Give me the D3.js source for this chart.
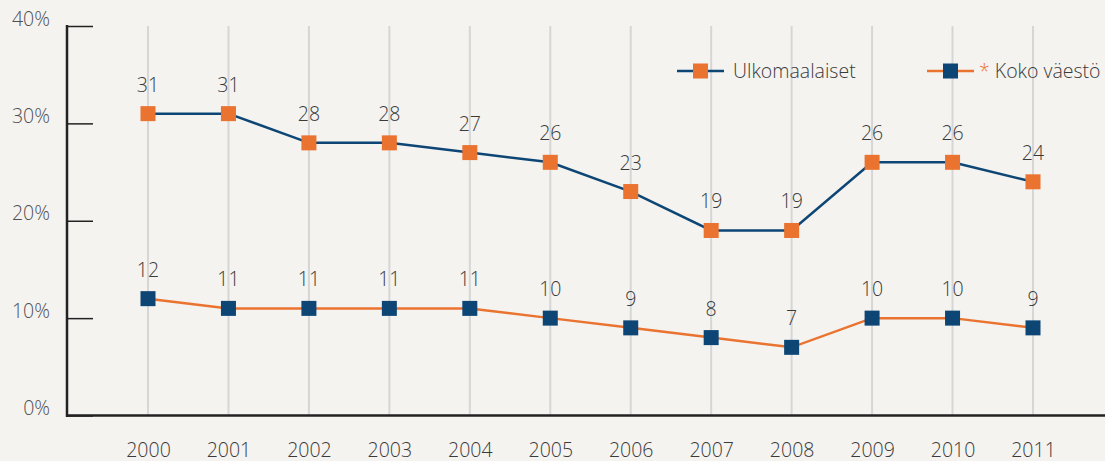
<!DOCTYPE html>
<html>
<head>
<meta charset="utf-8">
<script src="https://cdn.jsdelivr.net/npm/d3@7"></script>
<style>
  html, body { margin: 0; padding: 0; background: #f4f3f0; overflow: hidden; }
  svg { display: block; font-family: "Open Sans", "Noto Sans", sans-serif; font-weight: 300; }
</style>
</head>
<body>
<div id="app"></div>
<script>
const years = ['2000','2001','2002','2003','2004','2005','2006','2007','2008','2009','2010','2011']
const ulkomaalaiset = [31,31,28,28,27,26,23,19,19,26,26,24]
const kokoVaesto = [12,11,11,11,11,10,9,8,7,10,10,9]
const yTicks = [0,10,20,30,40]

const orange = '#ea7330'
const navy = '#0d4675'
const W = 1105, H = 461
const fs = 19.5

const svg = d3.select('#app').append('svg').attr('width',W).attr('height',H)

const x = d3.scalePoint().domain(years).range([148,1033])
const y = d3.scaleLinear().domain([0,40]).range([415.5,26])

// vertical grid lines
svg.selectAll('line.grid').data(years).enter().append('line')
  .attr('class','grid')
  .attr('x1',d => x(d)).attr('x2',d => x(d))
  .attr('y1',y(40)).attr('y2',y(0))
  .attr('stroke','#d6d6d6').attr('stroke-width',2)

// y axis
const yAxis = d3.axisLeft(y).tickValues(yTicks).tickFormat(d => d + '%').tickSize(0).tickPadding(17)
const gy = svg.append('g').attr('transform','translate(67,0)').call(yAxis).attr('font-family',null).attr('font-size',fs)
gy.select('.domain').remove()
gy.selectAll('text').attr('fill','#505050').attr('dy','-0.05em')
gy.selectAll('.tick').append('line').attr('x1',0).attr('x2',26).attr('stroke','#222').attr('stroke-width',1.5)
svg.append('line').attr('x1',67).attr('x2',67).attr('y1',y(40)-1).attr('y2',y(0)+1.5)
  .attr('stroke','#222').attr('stroke-width',2.5)

// x axis
const xAxis = d3.axisBottom(x).tickSize(0).tickPadding(28)
const gx = svg.append('g').attr('transform',`translate(0,${y(0)})`).call(xAxis).attr('font-family',null).attr('font-size',fs)
gx.select('.domain').remove()
gx.selectAll('text').attr('fill','#3a3a3a')
svg.append('line').attr('x1',66).attr('x2',W).attr('y1',y(0)).attr('y2',y(0))
  .attr('stroke','#222').attr('stroke-width',2.5)

const line = d3.line().x((d,i) => x(years[i])).y(d => y(d))

const series = [
  {name:'Ulkomaalaiset', values:ulkomaalaiset, lineColor:navy, markColor:orange},
  {name:'Koko väestö', values:kokoVaesto, lineColor:orange, markColor:navy}
]

series.forEach(s => {
  svg.append('path').datum(s.values).attr('d',line)
    .attr('fill','none').attr('stroke',s.lineColor).attr('stroke-width',2.5)
  svg.selectAll(null).data(s.values).enter().append('rect')
    .attr('x',(d,i) => x(years[i]) - 7.5).attr('y',d => y(d) - 7.5)
    .attr('width',15).attr('height',15).attr('fill',s.markColor)
  svg.selectAll(null).data(s.values).enter().append('text')
    .attr('x',(d,i) => x(years[i])).attr('y',d => y(d) - 22)
    .attr('text-anchor','middle').attr('font-size',fs).attr('fill','#3a3a3a')
    .text(d => d)
})

// legend
const legend = [
  {label:'Ulkomaalaiset', lineColor:navy, markColor:orange, x0:677, star:false},
  {label:'Koko väestö', lineColor:orange, markColor:navy, x0:927, star:true}
]
const ly = 71
legend.forEach(l => {
  const g = svg.append('g').attr('transform',`translate(${l.x0},${ly})`)
  g.append('line').attr('x1',0).attr('x2',47).attr('stroke',l.lineColor).attr('stroke-width',2.5)
  g.append('rect').attr('x',16).attr('y',-7.5).attr('width',15).attr('height',15).attr('fill',l.markColor)
  const t = g.append('text').attr('x',l.star ? 52 : 56).attr('y',7).attr('font-size',fs).attr('fill','#3a3a3a')
  if (l.star) t.append('tspan').attr('fill',orange).text('* ')
  t.append('tspan').text(l.label)
})
</script>
</body>
</html>
